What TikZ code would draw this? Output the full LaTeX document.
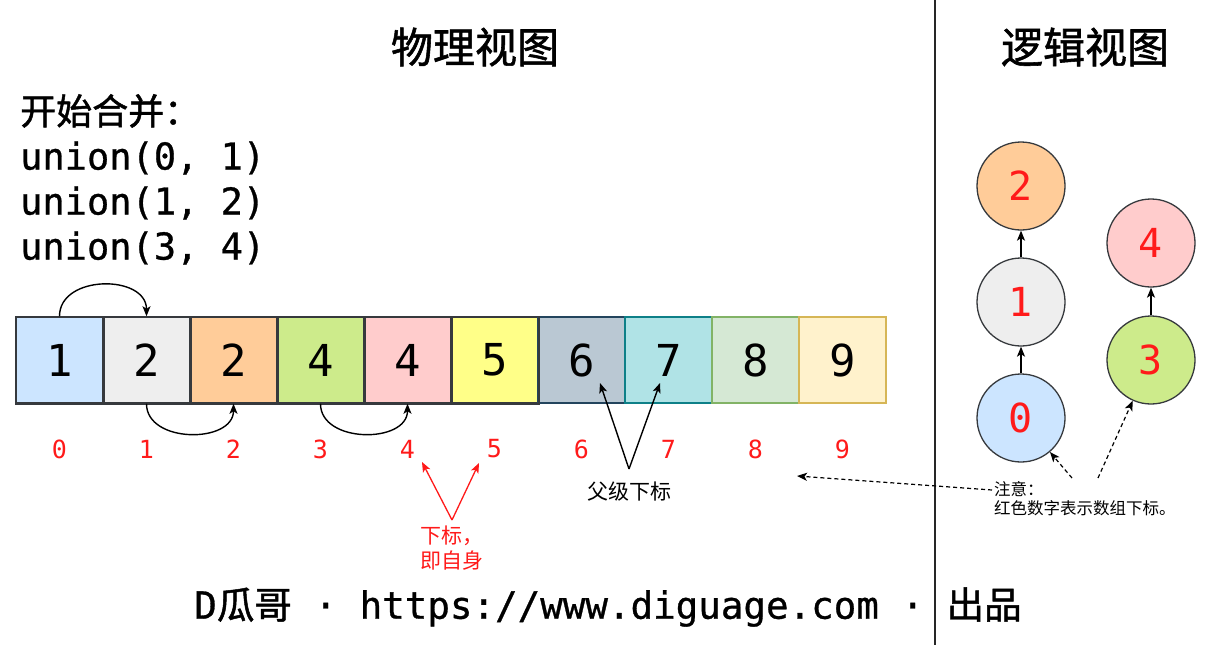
\documentclass[tikz,border=0pt]{standalone}
\usepackage{fontspec}
\setmainfont{DejaVu Sans}
\newfontfamily\cjk{Noto Sans CJK SC}
\newfontfamily\cjkm{Noto Sans CJK SC}[FakeBold=1.3]
\newfontfamily\mono{DejaVu Sans Mono}
\newfontfamily\monom{DejaVu Sans Mono}[FakeBold=0.8]
\usetikzlibrary{arrows.meta}
\definecolor{sA}{HTML}{36393D}
\definecolor{fA}{HTML}{CCE5FF}
\definecolor{fB}{HTML}{EEEEEE}
\definecolor{fC}{HTML}{FFCC99}
\definecolor{fD}{HTML}{CDEB8B}
\definecolor{fE}{HTML}{FFCCCC}
\definecolor{fF}{HTML}{FFFF88}
\definecolor{fG}{HTML}{BAC8D3}
\definecolor{sG}{HTML}{23445D}
\definecolor{fH}{HTML}{B0E3E6}
\definecolor{sH}{HTML}{0E8088}
\definecolor{fI}{HTML}{D5E8D4}
\definecolor{sI}{HTML}{82B366}
\definecolor{fJ}{HTML}{FFF2CC}
\definecolor{sJ}{HTML}{D6B656}
\definecolor{redtxt}{HTML}{FF1A1A}
\begin{document}
\begin{tikzpicture}[x=1pt,y=-1pt,
  cellbox/.style={minimum width=87pt,minimum height=86pt,inner sep=0pt,line width=1.5pt,
    font=\mono\fontsize{44}{44}\selectfont},
  idx/.style={inner sep=0pt,text=redtxt,font=\mono\fontsize{25}{25}\selectfont},
  circ/.style={circle,draw=sA,line width=1.3pt,minimum size=88pt,inner sep=0pt,
    text=redtxt,font=\mono\fontsize{40}{40}\selectfont},
  arr/.style={line width=1.4pt,-{Stealth[length=10pt,width=8pt,inset=2.5pt]}},
  redarr/.style={line width=1.3pt,draw=redtxt,-{Stealth[length=10pt,width=8pt,inset=2.5pt]}},
  darr/.style={line width=1.2pt,dash pattern=on 4pt off 3pt,-{Stealth[length=10pt,width=8pt,inset=2.5pt]}},
  title/.style={inner sep=0pt,font=\cjkm\fontsize{42}{42}\selectfont}
]
\path[use as bounding box,fill=white] (0,0) rectangle (1220,645);

% separator
\draw[line width=1.5pt,draw=black!85] (935,0) -- (935,645);

% titles
\node[title] (t1) at (475,47) {物理视图};
\node[title] (t2) at (1085,47) {逻辑视图};

% left text
\node[anchor=north west,align=left,inner sep=0pt,font=\monom\fontsize{37}{45}\selectfont] (ops) at (20,94)
  {{\cjkm\fontsize{36}{45}\selectfont 开始合并：}\\
   union(0, 1)\\
   union(1, 2)\\
   union(3, 4)};

% array cells
\foreach \i/\v/\f/\s in {0/1/fA/sA,1/2/fB/sA,2/2/fC/sA,3/4/fD/sA,4/4/fE/sA,
                          5/5/fF/sA,6/6/fG/sG,7/7/fH/sH,8/8/fI/sI,9/9/fJ/sJ}{
  \node[cellbox,fill=\f,draw=\s] (c\i) at ({59.5+87*\i},360) {\v};
  \node[idx] (i\i) at ({59.5+87*\i},449) {\i};
}
% redraw the gray borders on top so shared edges look right
\foreach \i in {0,...,5}{ \draw[sA,line width=1.5pt] (c\i.north west) rectangle (c\i.south east); }

% union arrows
\draw[arr] (c0.north) .. controls +(0,-42) and +(0,-42) .. (c1.north);
\draw[arr] (c1.south) .. controls +(0,40) and +(0,40) .. (c2.south);
\draw[arr] (c3.south) .. controls +(0,40) and +(0,40) .. (c4.south);

% parent index annotation
\node[inner sep=0pt,font=\cjk\fontsize{21}{21}\selectfont] (par) at (629,492) {父级下标};
\coordinate (pa) at (629,469);
\coordinate (p6) at (600,383);
\coordinate (p7) at (660,383);
\draw[arr] (pa) -- (p6);
\draw[arr] (pa) -- (p7);

% self index annotation
\node[anchor=north west,align=left,inner sep=0pt,text=redtxt,font=\cjk\fontsize{21}{25}\selectfont] (self) at (420,526) {下标，\\即自身};
\coordinate (ra) at (452,520);
\coordinate (r4) at (422,462);
\coordinate (r5) at (479,463);
\draw[redarr] (ra) -- (r4);
\draw[redarr] (ra) -- (r5);

% logical view
\node[circ,fill=fC] (n2) at (1021,186) {2};
\node[circ,fill=fB] (n1) at (1021,302) {1};
\node[circ,fill=fA] (n0) at (1021,418) {0};
\node[circ,fill=fE] (n4) at (1151,243) {4};
\node[circ,fill=fD] (n3) at (1151,360) {3};
\draw[arr] (n0) -- (n1);
\draw[arr] (n1) -- (n2);
\draw[arr] (n3) -- (n4);

% note
\node[anchor=north west,align=left,inner sep=0pt,font=\cjk\fontsize{16.5}{19}\selectfont] (note) at (994,481) {注意：\\红色数字表示数组下标。};
\coordinate (d0) at (992,490);
\coordinate (dt) at (797,476);
\coordinate (e0) at (1072,478);
\coordinate (e3) at (1098,478);
\draw[darr] (d0) -- (dt);
\draw[darr] (e0) -- (n0);
\draw[darr] (e3) -- (n3);

% footer
\node[inner sep=0pt] (foot) at (608,607)
  {\fontsize{37.5}{37.5}\selectfont{\monom D}{\cjkm 瓜哥}{\monom\ ·\ https://www.diguage.com\ ·\ }{\cjkm 出品}};
\end{tikzpicture}
\end{document}
